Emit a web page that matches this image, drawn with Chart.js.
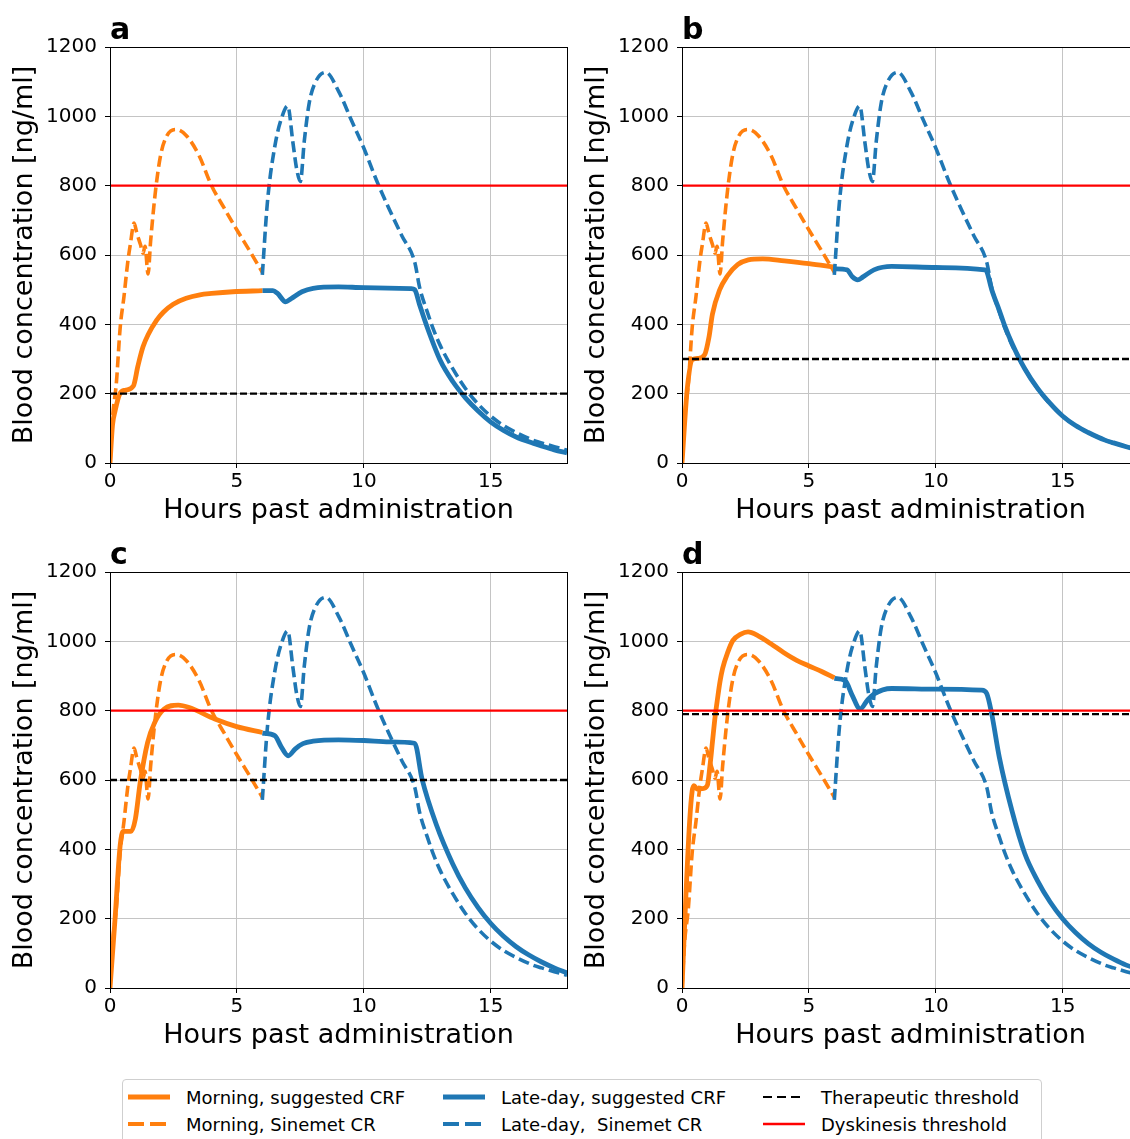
<!DOCTYPE html>
<html>
<head>
<meta charset="utf-8">
<script src="https://cdn.jsdelivr.net/npm/chart.js@4.4.0/dist/chart.umd.min.js"></script>
<style>
html, body { margin: 0; padding: 0; background: #fff; }
#page { position: relative; width: 1130px; height: 1139px; overflow: hidden; font-family: 'DejaVu Sans', sans-serif; color: #000; }
.panel { position: absolute; width: 570px; height: 525px; }
.tag { position: absolute; font-weight: bold; font-size: 30px; line-height: 1; }
#legend { position: absolute; left: 122px; top: 1079px; width: 918px; height: 90px; border: 1px solid #cfcfcf; border-radius: 4px; }
.sample { position: absolute; }
.label { position: absolute; font-size: 18px; line-height: 18px; white-space: nowrap; }
</style>
</head>
<body>
<div id="page">
  <div class="panel" style="left:0;top:0"><canvas id="chartA"></canvas></div>
  <div class="panel" style="left:572px;top:0"><canvas id="chartB"></canvas></div>
  <div class="panel" style="left:0;top:525px"><canvas id="chartC"></canvas></div>
  <div class="panel" style="left:572px;top:525px"><canvas id="chartD"></canvas></div>
  <div class="tag" style="left:110px;top:14px">a</div>
  <div class="tag" style="left:682px;top:14px">b</div>
  <div class="tag" style="left:110px;top:539px">c</div>
  <div class="tag" style="left:682px;top:539px">d</div>
  <div id="legend"></div>
</div>
<script>
// hours past administration vs blood concentration [ng/ml]

var panelNames = ["a", "b", "c", "d"];
var yTicks = [0, 200, 400, 600, 800, 1000, 1200];
var xTicks = [0, 5, 10, 15];

// thresholds per panel
var therapeutic = [200, 300, 600, 790];
var dyskinesis = 800;

// Sinemet CR, same in every panel
var morningSinemet = [[0,0],[0.1,130],[0.25,230],[0.4,390],[0.55,480],[0.7,580],[0.8,630],[0.95,692],[1.05,665],[1.2,630],[1.3,605],[1.38,625],[1.5,545],[1.6,640],[1.8,790],[2.0,890],[2.25,945],[2.6,962],[3.0,945],[3.5,888],[4.0,800],[4.5,735],[5.0,672],[5.5,612],[6.0,550]];
var lateSinemet = [[6.0,543],[6.2,752],[6.5,917],[6.78,1000],[7.0,1030],[7.2,927],[7.35,849],[7.5,812],[7.65,927],[7.85,1040],[8.1,1100],[8.5,1127],[9.0,1073],[9.5,990],[10.0,908],[10.5,815],[11.0,732],[11.5,655],[12.0,580],[12.2,505],[12.5,435],[12.7,393],[13.0,340],[13.5,272],[14.0,215],[14.5,170],[15.0,135],[15.5,108],[16.0,88],[16.66,66],[17.0,58],[17.5,47],[18.0,37]];

// suggested CRF, per panel
var crfMorningA = [[0,0],[0.1,110],[0.2,150],[0.39,200],[0.6,210],[0.92,222],[1.1,280],[1.3,335],[1.5,370],[1.84,412],[2.1,435],[2.49,458],[3.0,475],[3.54,485],[4.0,489],[4.84,494],[6.0,497]];
var crfLateA = [[6.0,497],[6.42,497],[6.6,489],[6.92,465],[7.13,474],[7.56,494],[8.0,504],[9.0,508],[10.0,506],[11.86,503],[12.0,500],[12.2,455],[12.5,390],[13.0,297],[13.5,235],[14.0,188],[14.5,150],[15.0,118],[15.5,94],[16.0,75],[16.66,57],[17.0,49],[17.5,38],[18.0,29]];

var crfMorningB = [[0,0],[0.21,216],[0.42,299],[0.64,302],[0.89,312],[1.06,362],[1.2,430],[1.48,499],[1.77,538],[2.19,572],[2.61,586],[3.18,589],[4.03,583],[5.0,575],[6.0,565]];
var crfLateB = [[6.0,560],[6.5,557],[6.71,537],[6.92,528],[7.13,537],[7.56,557],[8.26,567],[10.0,564],[11.93,557],[12.0,553],[12.2,500],[12.5,440],[12.7,398],[13.0,345],[13.5,272],[14.0,216],[14.5,172],[15.0,135],[15.5,108],[16.0,88],[16.66,66],[17.0,58],[17.5,47],[18.0,37]];

var crfMorningC = [[0,0],[0.19,190],[0.4,411],[0.52,452],[0.83,452],[1.0,488],[1.19,593],[1.48,708],[1.76,766],[2.12,804],[2.69,816],[3.12,809],[4.13,776],[4.99,754],[6.0,737]];
var crfLateC = [[6.0,735],[6.49,728],[6.75,695],[7.02,670],[7.3,690],[7.6,705],[8.0,712],[9.0,716],[10.0,714],[11.0,710],[12.0,706],[12.29,603],[12.87,468],[13.5,358],[14.0,288],[14.5,232],[15.0,186],[15.5,149],[16.0,119],[16.5,95],[17.0,75],[17.5,58],[18.0,44]];

var crfMorningD = [[0,0],[0.15,260],[0.3,480],[0.4,568],[0.47,584],[0.6,574],[0.8,575],[1.0,585],[1.1,640],[1.2,710],[1.3,780],[1.4,835],[1.5,885],[1.6,922],[1.8,968],[2.0,1002],[2.3,1020],[2.6,1027],[3.0,1016],[3.5,993],[4.0,968],[4.5,946],[5.0,929],[5.5,913],[6.0,895]];
var crfLateD = [[6.0,893],[6.43,886],[6.7,845],[7.02,805],[7.3,830],[7.56,848],[8.26,864],[10.0,862],[11.8,859],[12.0,850],[12.2,790],[12.5,665],[13.0,510],[13.5,388],[14.0,310],[14.5,248],[15.0,199],[15.5,160],[16.0,128],[16.5,103],[17.0,83],[17.5,66],[18.0,54]];

var crfMorning = [crfMorningA, crfMorningB, crfMorningC, crfMorningD];
var crfLate = [crfLateA, crfLateB, crfLateC, crfLateD];

var ORANGE = "#ff7f0e";
var BLUE = "#1f77b4";
var RED = "#ff0000";

Chart.defaults.font.family = "'DejaVu Sans', sans-serif";
Chart.defaults.color = "#000";

function toXY(pts) {
    return pts.map(function(p){ return {x: p[0], y: p[1]}; });
}

// black box round the plot, like the matplotlib spines
var framePlugin = {
    id: "frame",
    afterDatasetsDraw: function(chart) {
        var a = chart.chartArea;
        var ctx = chart.ctx;
        ctx.save();
        ctx.strokeStyle = "#000";
        ctx.lineWidth = 1;
        ctx.strokeRect(a.left + 0.5, a.top + 0.5, a.right - a.left, a.bottom - a.top);
        ctx.restore();
    }
};

function makePanel(id, i) {
    var datasets = [
        {label: "Therapeutic threshold", data: toXY([[0, therapeutic[i]], [18, therapeutic[i]]]),
            borderColor: "#000", borderWidth: 2.3, borderDash: [7, 3], order: 1},
        {label: "Dyskinesis threshold", data: toXY([[0, dyskinesis], [18, dyskinesis]]),
            borderColor: RED, borderWidth: 2.4, order: 0},
        {label: "Late-day, Sinemet CR", data: toXY(lateSinemet),
            borderColor: BLUE, borderWidth: 3.6, borderDash: [11, 5], cubicInterpolationMode: "monotone", order: 2},
        {label: "Morning, Sinemet CR", data: toXY(morningSinemet),
            borderColor: ORANGE, borderWidth: 3.6, borderDash: [11, 5], cubicInterpolationMode: "monotone", order: 3},
        {label: "Morning, suggested CRF", data: toXY(crfMorning[i]),
            borderColor: ORANGE, borderWidth: 4.8, cubicInterpolationMode: "monotone", order: 4},
        {label: "Late-day, suggested CRF", data: toXY(crfLate[i]),
            borderColor: BLUE, borderWidth: 4.8, cubicInterpolationMode: "monotone", order: 5}
    ];

    var ctx = document.getElementById(id).getContext("2d");
    return new Chart(ctx, {
        type: "line",
        data: {datasets: datasets},
        options: {
            responsive: true,
            maintainAspectRatio: false,
            animation: false,
            events: [],
            elements: {point: {radius: 0}, line: {tension: 0}},
            layout: {padding: {top: 47, right: 3, bottom: 0, left: 0}},
            plugins: {legend: {display: false}, tooltip: {enabled: false}},
            scales: {
                x: {
                    type: "linear", min: 0, max: 18,
                    afterFit: function(scale){ scale.height = 62; },
                    afterBuildTicks: function(scale){ scale.ticks = xTicks.map(function(v){ return {value: v}; }); },
                    ticks: {font: {size: 20}, color: "#000", padding: 2, maxRotation: 0,
                        callback: function(v){ return String(v); }},
                    grid: {color: "#c4c4c4", lineWidth: 1, tickColor: "#000", tickLength: 5},
                    border: {display: false},
                    title: {display: true, text: "Hours past administration", font: {size: 27}, color: "#000", padding: {top: 0, bottom: -2}}
                },
                y: {
                    type: "linear", min: 0, max: 1200,
                    afterFit: function(scale){ scale.width = 110; },
                    afterBuildTicks: function(scale){ scale.ticks = yTicks.map(function(v){ return {value: v}; }); },
                    ticks: {font: {size: 20}, color: "#000", padding: 8,
                        callback: function(v){ return String(v); }},
                    grid: {color: "#c4c4c4", lineWidth: 1, tickColor: "#000", tickLength: 5},
                    border: {display: false},
                    title: {display: true, text: "Blood concentration [ng/ml]", font: {size: 27}, color: "#000", padding: {top: 9, bottom: 0}}
                }
            }
        },
        plugins: [framePlugin]
    });
}

makePanel("chartA", 0);
makePanel("chartB", 1);
makePanel("chartC", 2);
makePanel("chartD", 3);

// legend below the panels
var legendItems = [
    {text: "Morning, suggested CRF", color: ORANGE, width: 5, dash: "", x: 5, row: 0},
    {text: "Morning, Sinemet CR", color: ORANGE, width: 4, dash: "16 6", x: 5, row: 1},
    {text: "Late-day, suggested CRF", color: BLUE, width: 5, dash: "", x: 320, row: 0},
    {text: "Late-day,  Sinemet CR", color: BLUE, width: 4, dash: "16 6", x: 320, row: 1},
    {text: "Therapeutic threshold", color: "#000", width: 2, dash: "9 5", x: 640, row: 0},
    {text: "Dyskinesis threshold", color: RED, width: 2.5, dash: "", x: 640, row: 1}
];

var legend = document.getElementById("legend");
legendItems.forEach(function(item){
    var cy = item.row === 0 ? 17 : 44;
    var svg = '<svg class="sample" width="42" height="10" style="left:' + item.x + 'px;top:' + (cy - 5) + 'px">' +
        '<line x1="0" y1="5" x2="42" y2="5" stroke="' + item.color + '" stroke-width="' + item.width + '"' +
        (item.dash ? ' stroke-dasharray="' + item.dash + '"' : '') + '/></svg>';
    legend.insertAdjacentHTML("beforeend", svg);
    var span = document.createElement("div");
    span.className = "label";
    span.style.left = (item.x + 58) + "px";
    span.style.top = (cy - 8) + "px";
    span.textContent = item.text.replace(/ /g, "\u00a0");
    legend.appendChild(span);
});
</script>
</body>
</html>
